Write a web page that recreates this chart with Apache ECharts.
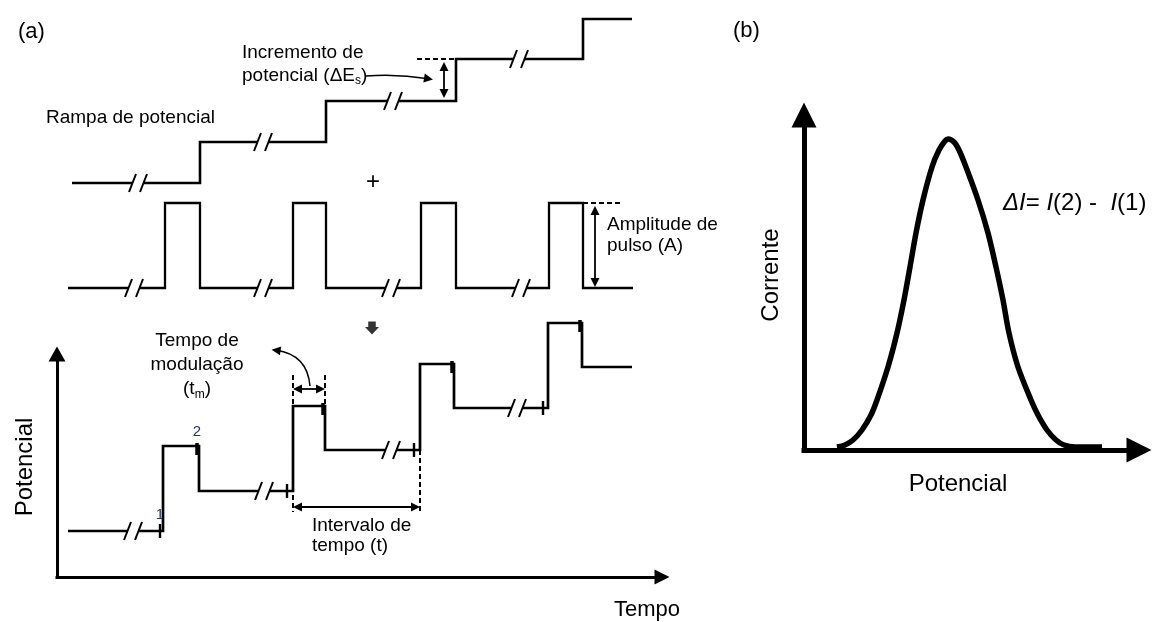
<!DOCTYPE html>
<html><head><meta charset="utf-8">
<script src="https://cdn.jsdelivr.net/npm/echarts@6/dist/echarts.min.js"></script>
<style>html,body{margin:0;padding:0;background:#fff}#c{width:1153px;height:622px}</style>
</head><body><div id="c"></div>
<script>
// ===== Panel (a): schematic waveforms (x = time units, y = potential units) =====
// Staircase potential ramp
const rampPath = [[15,394],[143,394],[143,435],[269,435],[269,476],[399,476],[399,518],[526,518],[526,558],[575,558]];
const rampBreaks = [81,206,336,462];
// Pulse train
const pulsePath = [[11,289],[108,289],[108,374],[143,374],[143,289],[236,289],[236,374],[269,374],[269,289],[364,289],[364,374],[399,374],[399,289],[492,289],[492,374],[526,374],[526,289],[576,289]];
const pulseBreaks = [77,206,334,464];
// Resulting differential pulse waveform
const dpvPath = [[11,46],[106,46],[106,131],[142,131],[142,86],[236,86],[236,171],[268,171],[268,127],[363,127],[363,213],[397,213],[397,169],[491,169],[491,254],[525,254],[525,210],[575,210]];
const dpvBreaks = [76,207,334,460];
// Current sampling points: before pulse (1) and end of pulse (2)
const sampleBefore = [[103,46],[230,86],[357,127],[486,169]];
const sampleEnd = [[140,131],[266,171],[395,213],[523,254]];
// Annotation guides
const dashedGuides = [[[236,202],[236,65]],[[268,202],[268,172]],[[363,127],[363,65]],[[360,518],[399,518]],[[526,374],[563,374]]];
const doubleArrows = [[[236,188],[268,188]],[[236,70],[363,70]],[[387,515],[387,479]],[[538,371],[538,290]]];
const pointerArrows = [[[309,501],[376,498]],[[253,191],[216,230]]];
const pointerCurves = [0.06,-0.4];
const downArrowPos = [[315,249]];

// ===== Panel (b): differential current peak =====
const peakPotential = [33,41,49,58,67,73,84,93,100,106,112,119,128,135,141,144,150,155,162,174,184,192,199,205,214,227,234,243,252,260,271,298];
const peakCurrent   = [3,5,10,20,35,50,83,117,150,183,217,250,283,300,309,311,308,300,283,250,217,183,150,117,83,50,35,20,10,5,3,3];

const FONT = '"Liberation Sans", Arial, Helvetica, sans-serif';

function withBreaks(path, breaks, half) {
  const lines = [], slashes = [];
  let cur = [path[0]];
  for (let i = 1; i < path.length; i++) {
    const p0 = path[i-1], p1 = path[i];
    if (p0[1] === p1[1]) {
      const lo = Math.min(p0[0], p1[0]), hi = Math.max(p0[0], p1[0]);
      breaks.filter(b => b > lo && b < hi).sort((a,b)=>a-b).forEach(b => {
        cur.push([b-half, p0[1]]); lines.push(cur);
        slashes.push({coords:[[b-half-3.5, p0[1]-9],[b-half+3.5, p0[1]+9]]});
        slashes.push({coords:[[b+half-3.5, p0[1]-9],[b+half+3.5, p0[1]+9]]});
        cur = [[b+half, p0[1]]];
      });
    }
    cur.push(p1);
  }
  lines.push(cur);
  return {lines: lines.map(c => ({coords: c})), slashes};
}
function shrink(p, q, a, b) {
  const dx = q[0]-p[0], dy = q[1]-p[1], L = Math.hypot(dx, dy);
  return [[p[0]+dx/L*a, p[1]+dy/L*a],[q[0]-dx/L*b, q[1]-dy/L*b]];
}

const ramp = withBreaks(rampPath, rampBreaks, 5.5);
const pulse = withBreaks(pulsePath, pulseBreaks, 5.5);
const dpv = withBreaks(dpvPath, dpvBreaks, 5.5);

const base = {type:'lines', coordinateSystem:'cartesian2d', xAxisIndex:0, yAxisIndex:0, clip:false, silent:true, symbol:'none'};
function ls(w, extra) { return Object.assign({color:'#000', width:w, opacity:1, join:'miter', cap:'butt', curveness:0}, extra||{}); }

const series = [
  Object.assign({}, base, {polyline:true, data: ramp.lines, lineStyle: ls(2.6)}),
  Object.assign({}, base, {polyline:true, data: pulse.lines, lineStyle: ls(2.3)}),
  Object.assign({}, base, {polyline:true, data: dpv.lines, lineStyle: ls(2.7)}),
  Object.assign({}, base, {data: ramp.slashes.concat(pulse.slashes, dpv.slashes), lineStyle: ls(2)}),
  Object.assign({}, base, {data: sampleBefore.map(p => ({coords:[[p[0],p[1]-7],[p[0],p[1]+7]]})), lineStyle: ls(2.4)}),
  Object.assign({}, base, {data: sampleEnd.map(p => ({coords:[[p[0],p[1]+3],[p[0],p[1]-9]]})), lineStyle: ls(3.5)}),
  Object.assign({}, base, {data: dashedGuides.map(s => ({coords:s})), lineStyle: ls(2, {type:[5,3]})}),
  Object.assign({}, base, {symbol:['triangle','triangle'], symbolSize:9,
     data: doubleArrows.map(s => ({coords: shrink(s[0], s[1], 4.5, 4.5)})), lineStyle: ls(1.8)}),
  Object.assign({}, base, {symbol:['none','triangle'], symbolSize:9,
     data: pointerArrows.map((s,i) => ({coords: shrink(s[0], s[1], 0, 4.5), lineStyle:{curveness: pointerCurves[i]}})), lineStyle: ls(1.5)}),
  {type:'scatter', xAxisIndex:0, yAxisIndex:0, silent:true, clip:false,
   symbol:'path://M3,0 L10,0 L10,5 L13,5 L6.5,12 L0,5 L3,5 Z', symbolSize:[14,13],
   itemStyle:{color:'#000'}, data: downArrowPos},
  {type:'line', xAxisIndex:1, yAxisIndex:1, clip:false, silent:true, smooth:0.3, symbol:'none', showSymbol:false,
   lineStyle:{color:'#000', width:5.5, join:'round'}, data: peakPotential.map((x,i) => [x, peakCurrent[i]])}
];

function axis(grid, max, width, sym) {
  return {gridIndex:grid, type:'value', min:0, max:max,
    axisLine:{show:true, onZero:false, symbol:['none','triangle'], symbolSize:sym, lineStyle:{color:'#000', width:width, cap:'square'}},
    axisTick:{show:false}, axisLabel:{show:false}, splitLine:{show:false}};
}

function txt(text, x, y, size, extra) {
  return Object.assign({type:'text', x:x, y:y, silent:true, style: Object.assign({text:text, fill:'#000', fontSize:size, fontFamily:FONT, align:'left', verticalAlign:'middle'}, (extra&&extra.style)||{})}, extra&&extra.el||{});
}
const sub = {fontSize:12, lineHeight:12, verticalAlign:'bottom', fontFamily:FONT, fill:'#000'};

const graphic = [
  txt('(a)', 18, 32, 22),
  txt('(b)', 733, 31, 22),
  txt('Rampa de potencial', 46, 118, 19),
  txt('{a|Incremento de}\n{a|potencial (ΔE}{s|s}{a|)}', 242, 41, 19, {style:{verticalAlign:'top', rich:{a:{fontSize:19, lineHeight:23, fontFamily:FONT, fill:'#000'}, s:sub}}}),
  txt('+', 373, 182, 24, {style:{align:'center'}}),
  txt('Amplitude de\npulso (A)', 607, 214, 19, {style:{verticalAlign:'top', lineHeight:21}}),
  txt('{a|Tempo de}\n{a|modulação}\n{a|(t}{s|m}{a|)}', 197, 329, 19, {style:{align:'center', verticalAlign:'top', rich:{a:{fontSize:19, lineHeight:24, fontFamily:FONT, fill:'#000'}, s:sub}}}),
  txt('Intervalo de\ntempo (t)', 312, 516, 19, {style:{verticalAlign:'top', lineHeight:20}}),
  txt('1', 160, 515, 15, {style:{align:'center', fill:'#1f3864'}}),
  txt('2', 197, 432, 15, {style:{align:'center', fill:'#1f3864'}}),
  txt('Potencial', 25, 467, 24, {style:{align:'center'}, el:{rotation:Math.PI/2}}),
  txt('Tempo', 647, 610, 22, {style:{align:'center'}}),
  txt('Corrente', 771, 275, 24, {style:{align:'center'}, el:{rotation:Math.PI/2}}),
  txt('Potencial', 958, 484, 24, {style:{align:'center'}}),
  txt('{i|ΔI}{n|= }{i|I}{n|(2) -  }{i|I}{n|(1)}', 1003, 203, 24, {style:{rich:{i:{fontSize:24, fontStyle:'italic', fontFamily:FONT, fill:'#000'}, n:{fontSize:24, fontFamily:FONT, fill:'#000'}}}})
];

const chart = echarts.init(document.getElementById('c'), null, {renderer:'canvas'});
chart.setOption({
  animation:false,
  backgroundColor:'#fff',
  grid:[{left:57, top:354, width:605, height:223, outerBoundsMode:'none'},
        {left:804, top:115, width:335, height:335, outerBoundsMode:'none'}],
  xAxis:[axis(0, 605, 3, [15,15]), axis(1, 335, 5, [25,25])],
  yAxis:[axis(0, 223, 3, [17,15]), axis(1, 335, 5, [25,25])],
  series: series,
  graphic: graphic
});
</script></body></html>
